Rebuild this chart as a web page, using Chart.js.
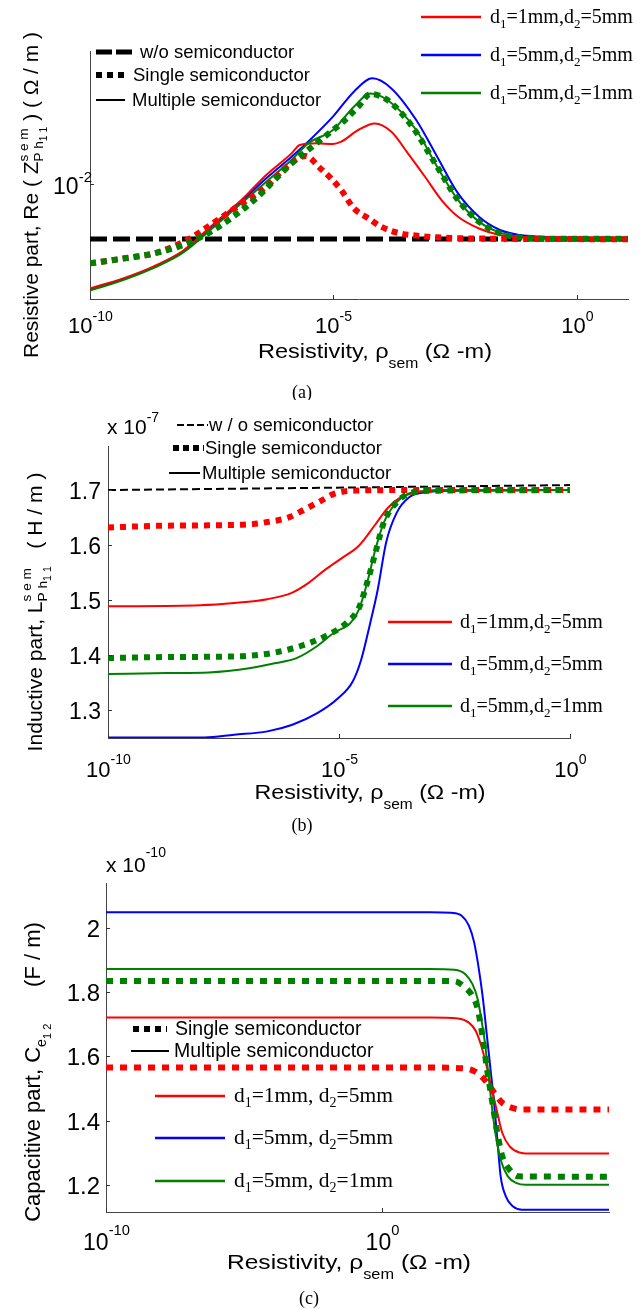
<!DOCTYPE html>
<html>
<head>
<meta charset="utf-8">
<script src="https://cdn.jsdelivr.net/npm/chart.js@4.4.1/dist/chart.umd.min.js"></script>
<style>
  html, body { margin: 0; padding: 0; background: #fff; }
  #page { position: relative; width: 642px; height: 1309px; overflow: hidden; background: #fff; }
  canvas { position: absolute; left: 0; }
</style>
</head>
<body>
<div id="page">
  <canvas id="chartA" width="642" height="400" style="top:0px"></canvas>
  <canvas id="chartB" width="642" height="440" style="top:400px"></canvas>
  <canvas id="chartC" width="642" height="469" style="top:840px"></canvas>
</div>
<script>
// x values are stored as log10(resistivity)

// (a) resistive part, Re(Z) in ohm/m
const aXTickExp = [-10, -5, 0];
const aYTicks = [0.01];
const aNoSemiExp = [-10, 1.05];
const aNoSemi = [0.00718, 0.00718];
const aRedSingleExp = [-10, -9.29, -8.69, -8.0, -7.58, -6.98, -6.38, -6.04, -5.78, -5.57, -5.27, -5.05, -4.84, -4.58, -4.28, -4.02, -3.64, -3.21, -2.87, -1.58, 1.05];
const aRedSingle = [0.00620, 0.00639, 0.00658, 0.00714, 0.00773, 0.00872, 0.00984, 0.01088, 0.01156, 0.01184, 0.01099, 0.01035, 0.00964, 0.00864, 0.00813, 0.00773, 0.00743, 0.00731, 0.00725, 0.00719, 0.00717];
const aGreenSingleExp = [-10, -9.29, -8.69, -8.09, -7.58, -7.06, -6.55, -6.21, -5.86, -5.52, -5.18, -4.84, -4.49, -4.24, -3.89, -3.38, -2.87, -2.44, -2.01, -1.58, -1.16, -0.30, 1.05];
const aGreenSingle = [0.00620, 0.00639, 0.00658, 0.00692, 0.00743, 0.00821, 0.00927, 0.01024, 0.01133, 0.01228, 0.01330, 0.01441, 0.01594, 0.01720, 0.01659, 0.01413, 0.01110, 0.00908, 0.00797, 0.00743, 0.00725, 0.00719, 0.00719];
const aRedMultiExp = [-10, -9.29, -8.69, -8.09, -7.41, -6.89, -6.38, -5.86, -5.69, -5.35, -5.01, -4.84, -4.49, -4.15, -3.81, -3.47, -3.12, -2.78, -2.44, -2.01, -1.58, -1.16, -0.73, 1.05];
const aRedMulti = [0.00533, 0.00568, 0.00609, 0.00669, 0.00797, 0.00908, 0.01056, 0.01203, 0.01265, 0.01278, 0.01273, 0.01291, 0.01385, 0.01441, 0.01371, 0.01203, 0.01045, 0.00908, 0.00821, 0.00765, 0.00735, 0.00725, 0.00719, 0.00718];
const aBlueMultiExp = [-10, -9.29, -8.69, -8.09, -7.75, -7.41, -6.89, -6.38, -5.86, -5.52, -5.01, -4.58, -4.20, -3.81, -3.30, -2.87, -2.44, -2.01, -1.58, -1.16, -0.73, 0.13, 1.05];
const aBlueMulti = [0.00530, 0.00566, 0.00607, 0.00665, 0.00721, 0.00789, 0.00899, 0.01035, 0.01179, 0.01291, 0.01501, 0.01745, 0.01891, 0.01780, 0.01471, 0.01179, 0.00945, 0.00821, 0.00758, 0.00735, 0.00728, 0.00722, 0.00719];
const aGreenMultiExp = [-10, -9.29, -8.69, -8.09, -7.41, -6.89, -6.38, -5.86, -5.52, -5.01, -4.58, -4.24, -3.89, -3.30, -2.87, -2.44, -2.01, -1.58, -1.16, -0.73, 1.05];
const aGreenMulti = [0.00526, 0.00562, 0.00603, 0.00661, 0.00781, 0.00890, 0.01014, 0.01156, 0.01278, 0.01385, 0.01594, 0.01727, 0.01659, 0.01385, 0.01110, 0.00908, 0.00797, 0.00746, 0.00728, 0.00722, 0.00719];

// (b) inductive part, x 1e-7 H/m
const bXTickExp = [-10, -5, 0];
const bYTicks = [1.3, 1.4, 1.5, 1.6, 1.7];
const bNoSemiExp = [-10, 0];
const bNoSemi = [1.700, 1.709];
const bRedSingleExp = [-10, -8.99, -7.82, -6.91, -6.55, -6.10, -5.74, -5.38, -5.11, -4.66, -3.5, 0];
const bRedSingle = [1.632, 1.635, 1.636, 1.638, 1.642, 1.650, 1.665, 1.681, 1.693, 1.699, 1.700, 1.700];
const bGreenSingleExp = [-10, -8.72, -7.27, -6.46, -5.83, -5.29, -4.84, -4.57, -4.39, -4.21, -4.03, -3.75, -3.39, -2.85, 0];
const bGreenSingle = [1.395, 1.397, 1.398, 1.404, 1.417, 1.435, 1.459, 1.486, 1.532, 1.587, 1.641, 1.678, 1.696, 1.699, 1.700];
const bRedMultiExp = [-10, -8.0, -7.27, -6.55, -6.01, -5.65, -5.29, -4.93, -4.57, -4.21, -3.94, -3.66, -3.30, -2.85, 0];
const bRedMulti = [1.489, 1.491, 1.495, 1.502, 1.514, 1.532, 1.556, 1.577, 1.599, 1.638, 1.668, 1.687, 1.696, 1.700, 1.700];
const bBlueMultiExp = [-10, -7.91, -7.27, -6.55, -6.01, -5.47, -5.02, -4.70, -4.52, -4.34, -4.16, -3.98, -3.75, -3.48, -3.12, -2.58, 0];
const bBlueMulti = [1.251, 1.251, 1.256, 1.262, 1.274, 1.295, 1.322, 1.353, 1.392, 1.453, 1.520, 1.605, 1.659, 1.687, 1.696, 1.699, 1.700];
const bGreenMultiExp = [-10, -8.72, -7.82, -6.91, -6.37, -5.92, -5.47, -5.11, -4.75, -4.57, -4.39, -4.21, -4.03, -3.75, -3.39, -2.85, 0];
const bGreenMulti = [1.366, 1.368, 1.369, 1.377, 1.386, 1.395, 1.417, 1.441, 1.459, 1.483, 1.532, 1.593, 1.641, 1.678, 1.696, 1.699, 1.700];

// (c) capacitive part, x 1e-10 F/m
const cXTickExp = [-10, 0];
const cYTicks = [1.2, 1.4, 1.6, 1.8, 2];
const cRedSingleExp = [-10, 1.72, 3.00, 3.32, 3.58, 3.83, 4.09, 4.34, 4.67, 5.05, 8.2];
const cRedSingle = [1.565, 1.565, 1.562, 1.554, 1.538, 1.513, 1.481, 1.455, 1.440, 1.434, 1.434];
const cGreenSingleExp = [-10, 1.72, 2.61, 3.00, 3.26, 3.45, 3.64, 3.77, 3.96, 4.16, 4.34, 4.60, 4.93, 8.2];
const cGreenSingle = [1.835, 1.835, 1.834, 1.814, 1.788, 1.747, 1.653, 1.570, 1.466, 1.361, 1.288, 1.247, 1.226, 1.225];
const cRedMultiExp = [-10, 1.72, 2.74, 3.13, 3.38, 3.58, 3.77, 3.96, 4.16, 4.34, 4.60, 4.93, 5.31, 8.2];
const cRedMulti = [1.721, 1.721, 1.718, 1.705, 1.679, 1.632, 1.570, 1.497, 1.424, 1.361, 1.320, 1.301, 1.297, 1.297];
const cBlueMultiExp = [-10, 1.72, 2.49, 2.87, 3.13, 3.32, 3.51, 3.64, 3.77, 3.90, 4.03, 4.16, 4.28, 4.47, 4.73, 5.05, 8.2];
const cBlueMulti = [2.049, 2.049, 2.047, 2.038, 2.007, 1.955, 1.861, 1.778, 1.674, 1.570, 1.466, 1.341, 1.226, 1.163, 1.132, 1.122, 1.122];
const cGreenMultiExp = [-10, 1.72, 2.61, 3.00, 3.26, 3.45, 3.58, 3.71, 3.83, 3.96, 4.09, 4.28, 4.54, 4.86, 5.18, 8.2];
const cGreenMulti = [1.872, 1.872, 1.870, 1.856, 1.825, 1.778, 1.716, 1.643, 1.549, 1.445, 1.361, 1.278, 1.226, 1.205, 1.200, 1.200];

const SANS = '"Liberation Sans", Arial, sans-serif';
const SERIF = '"Liberation Serif", "Times New Roman", serif';
const RED = '#ff0000', BLUE = '#0000ff', GREEN = '#008000';

function pts(exps, vals) {
  return exps.map((e, i) => ({ x: Math.pow(10, e), y: vals[i] }));
}

function solid(exps, vals, color) {
  return { data: pts(exps, vals), borderColor: color, borderWidth: 2, pointRadius: 0,
           fill: false, cubicInterpolationMode: 'monotone' };
}
function dotted(exps, vals, color, dash) {
  return { data: pts(exps, vals), borderColor: color, borderWidth: 6, borderDash: dash,
           borderCapStyle: 'butt', pointRadius: 0, fill: false, cubicInterpolationMode: 'monotone' };
}

// text runs: [text, size, dy, family, hold]
function R(t, s, dy, fam, hold) { return { t, s, dy: dy || 0, fam: fam || SANS, hold: !!hold }; }

function layoutRuns(ctx, runs, k) {
  let cur = 0, maxX = 0;
  const placed = runs.map(r => {
    ctx.font = (r.s * k) + 'px ' + r.fam;
    const w = ctx.measureText(r.t).width;
    const p = { r, x: cur, w };
    maxX = Math.max(maxX, cur + w);
    if (!r.hold) cur += w;
    return p;
  });
  return { placed, width: maxX };
}

// fit: target length; stretch: reach it by widening glyphs instead of enlarging the font
function drawRuns(ctx, spec, top) {
  let k = 1, sx = 1;
  let lay = layoutRuns(ctx, spec.runs, k);
  if (spec.fit && spec.stretch) sx = spec.fit / lay.width;
  else if (spec.fit) { k = spec.fit / lay.width; lay = layoutRuns(ctx, spec.runs, k); }
  ctx.save();
  ctx.translate(spec.x, spec.y - top);
  if (spec.rot) ctx.rotate(-Math.PI / 2);
  ctx.scale(sx, 1);
  let x0 = 0;
  if (spec.align === 'center') x0 = -lay.width / 2;
  else if (spec.align === 'right') x0 = -lay.width;
  ctx.fillStyle = spec.color || '#000';
  ctx.textBaseline = 'alphabetic';
  ctx.textAlign = 'left';
  lay.placed.forEach(p => {
    ctx.font = (p.r.s * k) + 'px ' + p.r.fam;
    ctx.fillText(p.r.t, x0 + p.x, p.r.dy * k);
  });
  ctx.restore();
}

const decorPlugin = {
  id: 'decor',
  afterDraw(chart, args, o) {
    const ctx = chart.ctx, top = o.pageTop;
    const xs = chart.scales.x, ys = chart.scales.y, area = chart.chartArea;
    ctx.save();
    // inward tick marks and labels
    ctx.strokeStyle = '#333';
    ctx.lineWidth = 1;
    o.xTickExp.forEach(e => {
      const px = Math.round(xs.getPixelForValue(Math.pow(10, e))) + 0.5;
      ctx.beginPath(); ctx.moveTo(px, area.bottom); ctx.lineTo(px, area.bottom - 4); ctx.stroke();
      drawRuns(ctx, { runs: [R('10', o.tickSize, 0), R(String(e), o.tickSize * 0.64, o.supDy)],
                      x: px, y: o.xTickY, align: 'center' }, top);
    });
    o.yTicks.forEach(v => {
      const py = Math.round(ys.getPixelForValue(v)) + 0.5;
      ctx.beginPath(); ctx.moveTo(area.left, py); ctx.lineTo(area.left + 4, py); ctx.stroke();
      const runs = o.yTickLog ? [R('10', 23, 0), R('-2', 15, -12)] : [R(String(v), o.yTickSize, 0)];
      drawRuns(ctx, { runs, x: o.yTickX, y: py + top + o.yTickDy, align: 'right' }, top);
    });
    // legend samples
    o.lines.forEach(l => {
      ctx.beginPath();
      ctx.strokeStyle = l.color; ctx.lineWidth = l.w;
      ctx.setLineDash(l.dash || []);
      ctx.lineCap = 'butt';
      ctx.moveTo(l.x1, l.y - top); ctx.lineTo(l.x2, l.y - top); ctx.stroke();
    });
    ctx.setLineDash([]);
    o.texts.forEach(t => drawRuns(ctx, t, top));
    ctx.restore();
  }
};

function makeChart(id, cfg) {
  return new Chart(document.getElementById(id), {
    type: 'line',
    data: { datasets: cfg.datasets },
    options: {
      responsive: false,
      animation: false,
      devicePixelRatio: 1,
      layout: { padding: { left: 0, top: cfg.area.top, right: 642 - cfg.area.right, bottom: 0 } },
      plugins: { legend: { display: false }, tooltip: { enabled: false }, decor: cfg.decor },
      scales: {
        x: {
          type: 'logarithmic', min: cfg.xMin, max: cfg.xMax,
          ticks: { display: false }, grid: { display: false },
          border: { display: true, color: '#444', width: 1 },
          afterFit: s => { s.height = cfg.height - cfg.area.bottom; }
        },
        y: {
          type: cfg.yType, min: cfg.yMin, max: cfg.yMax,
          ticks: { display: false }, grid: { display: false },
          border: { display: true, color: '#444', width: 1 },
          afterFit: s => { s.width = cfg.area.left; }
        }
      }
    },
    plugins: [decorPlugin]
  });
}

function dLabel(a, b, size, sep) {
  return [R('d', size, 0, SERIF), R('1', size * 0.65, 5, SERIF), R('=' + a + 'mm,' + sep + 'd', size, 0, SERIF),
          R('2', size * 0.65, 5, SERIF), R('=' + b + 'mm', size, 0, SERIF)];
}
function rhoTitle(x, y, fit) {
  return { runs: [R('Resistivity, \u03c1', 21), R('sem', 14, 10), R(' (\u03a9 -m)', 21)],
           x, y, align: 'center', fit, stretch: true };
}

// ---- (a) ----
makeChart('chartA', {
  height: 400, area: { left: 90, right: 628, top: 51, bottom: 299 },
  xMin: 1e-10, xMax: Math.pow(10, 1.05), yType: 'logarithmic', yMin: 0.005, yMax: 0.0223,
  datasets: [
    dotted(aGreenSingleExp, aGreenSingle, GREEN, [6, 5]),
    dotted(aRedSingleExp, aRedSingle, RED, [6, 5]),
    solid(aGreenMultiExp, aGreenMulti, GREEN),
    solid(aRedMultiExp, aRedMulti, RED),
    solid(aBlueMultiExp, aBlueMulti, BLUE),
    { data: pts(aNoSemiExp, aNoSemi), borderColor: '#000', borderWidth: 5, borderDash: [17, 6], pointRadius: 0 }
  ],
  decor: {
    pageTop: 0, xTickExp: aXTickExp, xTickY: 333, tickSize: 22, supDy: -12,
    yTicks: aYTicks, yTickLog: true, yTickX: 92, yTickDy: 9,
    lines: [
      { x1: 96, x2: 133, y: 52, color: '#000', w: 5, dash: [16, 4] },
      { x1: 96, x2: 125, y: 75, color: '#000', w: 6, dash: [6, 5] },
      { x1: 96, x2: 125, y: 100, color: '#000', w: 2 },
      { x1: 421, x2: 481, y: 17, color: RED, w: 2.5 },
      { x1: 421, x2: 481, y: 55, color: BLUE, w: 2.5 },
      { x1: 421, x2: 481, y: 93, color: GREEN, w: 2.5 }
    ],
    texts: [
      { runs: [R('w/o semiconductor', 18.5)], x: 140, y: 58 },
      { runs: [R('Single semiconductor', 18.5)], x: 133, y: 81 },
      { runs: [R('Multiple semiconductor', 18.5)], x: 132, y: 106 },
      { runs: dLabel(1, 5, 20, ''), x: 490, y: 23 },
      { runs: dLabel(5, 5, 20, ''), x: 490, y: 61 },
      { runs: dLabel(5, 1, 20, ''), x: 490, y: 99 },
      { runs: [R('Resistive part, Re ( Z', 20), R('s e m', 13, -10, SANS, true), R('P h', 13, 5), R('1 1', 10, 9),
               R(' ) ( \u03a9 / m )', 20)], x: 38, y: 195, align: 'center', rot: true, fit: 326 },
      rhoTitle(375, 358, 234),
      { runs: [R('(a)', 18, 0, SERIF)], x: 302, y: 398, align: 'center' }
    ]
  }
});

// ---- (b) ----
makeChart('chartB', {
  height: 440, area: { left: 108, right: 570, top: 46, bottom: 338 },
  xMin: 1e-10, xMax: 1, yType: 'linear', yMin: 1.25, yMax: 1.78,
  datasets: [
    dotted(bGreenSingleExp, bGreenSingle, GREEN, [6, 6]),
    dotted(bRedSingleExp, bRedSingle, RED, [6, 6]),
    solid(bGreenMultiExp, bGreenMulti, GREEN),
    solid(bRedMultiExp, bRedMulti, RED),
    solid(bBlueMultiExp, bBlueMulti, BLUE),
    { data: pts(bNoSemiExp, bNoSemi), borderColor: '#000', borderWidth: 2, borderDash: [8, 4], pointRadius: 0 }
  ],
  decor: {
    pageTop: 400, xTickExp: bXTickExp, xTickY: 777, tickSize: 22, supDy: -13,
    yTicks: bYTicks, yTickLog: false, yTickSize: 23, yTickX: 101, yTickDy: 8,
    lines: [
      { x1: 177, x2: 208, y: 425, color: '#000', w: 2, dash: [7, 3] },
      { x1: 173, x2: 204, y: 448, color: '#000', w: 6, dash: [6, 4] },
      { x1: 169, x2: 200, y: 473, color: '#000', w: 2 },
      { x1: 388, x2: 452, y: 622, color: RED, w: 2.5 },
      { x1: 388, x2: 452, y: 664, color: BLUE, w: 2.5 },
      { x1: 388, x2: 452, y: 706, color: GREEN, w: 2.5 }
    ],
    texts: [
      { runs: [R('x 10', 21), R('-7', 14, -12)], x: 107, y: 434 },
      { runs: [R('w / o semiconductor', 18.5)], x: 209, y: 431 },
      { runs: [R('Single semiconductor', 18.5)], x: 205, y: 454 },
      { runs: [R('Multiple semiconductor', 18.5)], x: 202, y: 479 },
      { runs: dLabel(1, 5, 20, ''), x: 460, y: 628 },
      { runs: dLabel(5, 5, 20, ''), x: 460, y: 670 },
      { runs: dLabel(5, 1, 20, ''), x: 460, y: 712 },
      { runs: [R('Inductive part, L', 20), R('s e m', 13, -10, SANS, true), R('P h', 13, 5), R('1 1', 10, 9),
               R('   ( H / m )', 20)], x: 42, y: 612, align: 'center', rot: true, fit: 279 },
      rhoTitle(370, 799, 231),
      { runs: [R('(b)', 18, 0, SERIF)], x: 302, y: 831, align: 'center' }
    ]
  }
});

// ---- (c) ----
makeChart('chartC', {
  height: 469, area: { left: 106, right: 609, top: 43, bottom: 372 },
  xMin: 1e-10, xMax: Math.pow(10, 8.2), yType: 'linear', yMin: 1.115, yMax: 2.14,
  datasets: [
    dotted(cGreenSingleExp, cGreenSingle, GREEN, [7, 7]),
    dotted(cRedSingleExp, cRedSingle, RED, [7, 7]),
    solid(cGreenMultiExp, cGreenMulti, GREEN),
    solid(cRedMultiExp, cRedMulti, RED),
    solid(cBlueMultiExp, cBlueMulti, BLUE)
  ],
  decor: {
    pageTop: 840, xTickExp: cXTickExp, xTickY: 1250, tickSize: 23, supDy: -15,
    yTicks: cYTicks, yTickLog: false, yTickSize: 24, yTickX: 100, yTickDy: 8,
    lines: [
      { x1: 133, x2: 167, y: 1029, color: '#000', w: 6, dash: [6, 5] },
      { x1: 131, x2: 169, y: 1051, color: '#000', w: 2 },
      { x1: 155, x2: 225, y: 1096, color: RED, w: 2.5 },
      { x1: 155, x2: 225, y: 1138, color: BLUE, w: 2.5 },
      { x1: 155, x2: 225, y: 1181, color: GREEN, w: 2.5 }
    ],
    texts: [
      { runs: [R('x 10', 21), R('-10', 14, -15)], x: 106, y: 872 },
      { runs: [R('Single semiconductor', 19.5)], x: 175, y: 1035 },
      { runs: [R('Multiple semiconductor', 19.5)], x: 174, y: 1057 },
      { runs: dLabel(1, 5, 21.5, ' '), x: 234, y: 1102 },
      { runs: dLabel(5, 5, 21.5, ' '), x: 234, y: 1144 },
      { runs: dLabel(5, 1, 21.5, ' '), x: 234, y: 1187 },
      { runs: [R('Capacitive part, C', 20), R('e', 13, 5), R('1 2', 10, 10), R('      (F / m)', 20)],
        x: 40, y: 1072, align: 'center', rot: true, fit: 300 },
      rhoTitle(349, 1269, 244),
      { runs: [R('(c)', 18, 0, SERIF)], x: 309, y: 1304, align: 'center' }
    ]
  }
});
</script>
</body>
</html>
